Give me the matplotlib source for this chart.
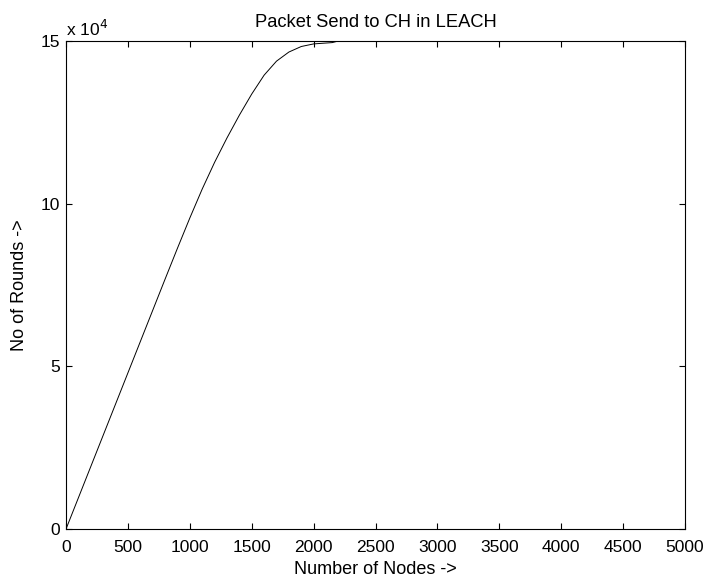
import matplotlib
matplotlib.use("Agg")
import matplotlib.pyplot as plt
from matplotlib.ticker import FuncFormatter

# values
nodes = [0, 200, 400, 600, 800, 900, 1000, 1100, 1200, 1300, 1400, 1500,
         1600, 1700, 1800, 1900, 2000, 2150, 2200, 5000]
packets = [0, 19200, 38400, 57600, 76800, 86300, 95600, 104500, 112700,
           120200, 127200, 133700, 139500, 143800, 146600, 148300, 149100,
           149500, 150000, 150000]
x_ticks = list(range(0, 5001, 500))
y_ticks = [0, 50000, 100000, 150000]

plt.rcParams["font.family"] = ["Liberation Sans", "DejaVu Sans"]

fig = plt.figure(figsize=(7.07, 5.82), dpi=100)
ax = fig.add_axes([0.0934, 0.0911, 0.8756, 0.8385])
ax.plot(nodes, packets, color="black", lw=0.7)

ax.set_xlim(0, 5000)
ax.set_ylim(0, 150000)
ax.set_xticks(x_ticks)
ax.set_yticks(y_ticks)
ax.yaxis.set_major_formatter(FuncFormatter(lambda v, p: f"{v / 1e4:g}"))
ax.tick_params(direction="in", top=True, right=True, length=4, width=0.8,
               labelsize=12.5)
ax.tick_params(axis="x", pad=8)
ax.tick_params(axis="y", pad=4)
for s in ax.spines.values():
    s.set_linewidth(0.8)

ax.text(0.0, 1.005, r"x 10$^{4}$", transform=ax.transAxes, ha="left",
        va="bottom", fontsize=12.5)
ax.set_title("Packet Send to CH in LEACH", fontsize=13.2, pad=10)
ax.set_xlabel("Number of Nodes ->", fontsize=13, labelpad=4)
ax.set_ylabel("No of Rounds ->", fontsize=13, labelpad=9)

fig.savefig("out.png", dpi=100)
